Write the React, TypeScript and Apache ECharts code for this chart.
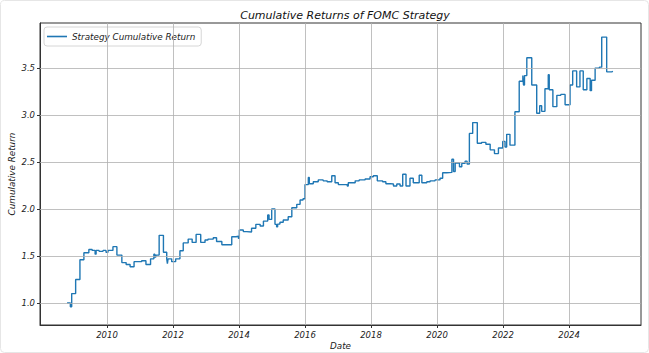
import React, { useEffect, useRef } from "react";
import * as echarts from "echarts";

// Decimal-year positions where the cumulative return changes
const dates = [
  2008.79, 2008.89, 2008.93, 2009.05, 2009.18, 2009.30, 2009.45, 2009.55, 2009.64, 2009.67,
  2009.76, 2009.88, 2009.97, 2010.03, 2010.18, 2010.30, 2010.45, 2010.58, 2010.70, 2010.82,
  2011.05, 2011.18, 2011.32, 2011.42, 2011.45, 2011.48, 2011.58, 2011.71, 2011.81, 2011.83,
  2011.85, 2011.96, 2012.08, 2012.21, 2012.31, 2012.46, 2012.58, 2012.70, 2012.84, 2012.97,
  2013.06, 2013.22, 2013.32, 2013.48, 2013.78, 2013.91, 2013.98, 2014.01, 2014.13, 2014.23,
  2014.38, 2014.51, 2014.64, 2014.74, 2014.87, 2014.91, 2014.99, 2015.09, 2015.14, 2015.17,
  2015.24, 2015.34, 2015.49, 2015.60, 2015.75, 2015.85, 2015.94, 2016.00, 2016.10, 2016.13,
  2016.25, 2016.40, 2016.55, 2016.67, 2016.81, 2016.91, 2017.01, 2017.18, 2017.28, 2017.31,
  2017.52, 2017.64, 2017.82, 2017.97, 2018.07, 2018.19, 2018.35, 2018.45, 2018.58, 2018.68,
  2018.78, 2018.88, 2018.96, 2019.06, 2019.18, 2019.28, 2019.46, 2019.54, 2019.69, 2019.79,
  2019.94, 2020.09, 2020.17, 2020.29, 2020.45, 2020.50, 2020.55, 2020.68, 2020.75, 2020.85,
  2020.91, 2020.98, 2021.08, 2021.22, 2021.35, 2021.48, 2021.61, 2021.74, 2021.86, 2021.99,
  2022.06, 2022.11, 2022.21, 2022.36, 2022.49, 2022.60, 2022.62, 2022.65, 2022.72, 2022.87,
  2023.02, 2023.11, 2023.17, 2023.27, 2023.37, 2023.40, 2023.51, 2023.63, 2023.75, 2023.88,
  2024.03, 2024.11, 2024.23, 2024.33, 2024.43, 2024.54, 2024.64, 2024.68, 2024.79, 2024.92,
  2024.99, 2025.14, 2025.29, 2025.33,
];

const returns = [
  1.00, 0.96, 1.10, 1.25, 1.46, 1.535, 1.57, 1.56, 1.52, 1.56,
  1.55, 1.56, 1.54, 1.56, 1.60, 1.51, 1.43, 1.41, 1.386, 1.44,
  1.45, 1.41, 1.47, 1.52, 1.49, 1.51, 1.72, 1.54, 1.47, 1.42,
  1.47, 1.44, 1.47, 1.556, 1.64, 1.68, 1.645, 1.73, 1.645, 1.67,
  1.68, 1.695, 1.655, 1.62, 1.705, 1.71, 1.69, 1.777, 1.76, 1.755,
  1.795, 1.837, 1.82, 1.872, 1.936, 1.89, 2.0, 1.837, 1.81, 1.84,
  1.86, 1.883, 1.918, 2.014, 2.05, 2.096, 2.11, 2.26, 2.337, 2.27,
  2.29, 2.31, 2.30, 2.29, 2.355, 2.28, 2.26, 2.26, 2.245, 2.28,
  2.30, 2.31, 2.32, 2.344, 2.355, 2.30, 2.29, 2.27, 2.266, 2.245,
  2.266, 2.245, 2.37, 2.245, 2.327, 2.28, 2.36, 2.28, 2.29, 2.30,
  2.31, 2.327, 2.386, 2.39, 2.53, 2.40, 2.49, 2.45, 2.486, 2.51,
  2.48, 2.805, 2.92, 2.70, 2.71, 2.69, 2.63, 2.59, 2.65, 2.72,
  2.66, 2.795, 2.68, 3.035, 3.36, 3.42, 3.32, 3.42, 3.61, 3.32,
  3.02, 3.10, 3.04, 3.28, 3.43, 3.27, 3.09, 3.21, 3.22, 3.11,
  3.32, 3.47, 3.30, 3.47, 3.27, 3.39, 3.26, 3.37, 3.50, 3.51,
  3.83, 3.46, 3.465, 3.465,
];

const xTicks = [2010, 2012, 2014, 2016, 2018, 2020, 2022, 2024];
const yTicks = [1.0, 1.5, 2.0, 2.5, 3.0, 3.5];

const FONT = "DejaVu Sans";

export default function App() {
  const ref = useRef<HTMLDivElement>(null);

  useEffect(() => {
    if (!ref.current) return;
    const chart = echarts.init(ref.current, undefined, { renderer: "svg" });
    const gridStyle = { color: "#b0b0b0", width: 0.8, type: "solid" as const };
    chart.setOption({
      animation: false,
      backgroundColor: "#ffffff",
      title: {
        text: "Cumulative Returns of FOMC Strategy",
        left: 340,
        textAlign: "center",
        top: 5,
        textStyle: { fontFamily: FONT, fontStyle: "italic", fontWeight: "normal", fontSize: 11, color: "#111" },
      },
      legend: {
        data: ["Strategy Cumulative Return"],
        left: 44,
        top: 27,
        orient: "vertical",
        icon: "rect",
        itemWidth: 20,
        itemHeight: 1.6,
        itemGap: 4,
        padding: [5, 6, 5, 3],
        borderColor: "#d6d6d6",
        borderWidth: 1,
        borderRadius: 3,
        backgroundColor: "#ffffff",
        textStyle: { fontFamily: FONT, fontStyle: "italic", fontSize: 8.8, color: "#222" },
      },
      grid: {
        left: 40,
        right: 8,
        top: 23,
        bottom: 28,
        outerBoundsMode: "none",
        containLabel: false,
        show: true,
        borderColor: "#333",
        borderWidth: 1,
        backgroundColor: "transparent",
      },
      xAxis: {
        type: "value",
        min: 2007.97,
        max: 2026.18,
        name: "Date",
        nameLocation: "middle",
        nameGap: 16,
        nameMoveOverlap: false,
        nameTextStyle: { fontFamily: FONT, fontStyle: "italic", fontSize: 8.8, color: "#222" },
        axisLine: { show: true, lineStyle: { color: "#333" } },
        axisTick: { show: true, length: 3, customValues: xTicks, lineStyle: { color: "#333" } },
        axisLabel: {
          customValues: xTicks,
          formatter: (v: number) => String(Math.round(v)),
          fontFamily: FONT,
          fontStyle: "italic",
          fontSize: 8.5,
          color: "#222",
          margin: 5,
        },
        splitLine: { show: false },
      },
      yAxis: {
        type: "value",
        min: 0.766,
        max: 3.98,
        name: "Cumulative Return",
        nameLocation: "middle",
        nameGap: 24,
        nameMoveOverlap: false,
        nameTextStyle: { fontFamily: FONT, fontStyle: "italic", fontSize: 8.8, color: "#222" },
        axisLine: { show: true, lineStyle: { color: "#333" } },
        axisTick: { show: true, length: 3, customValues: yTicks, lineStyle: { color: "#333" } },
        axisLabel: {
          customValues: yTicks,
          formatter: (v: number) => v.toFixed(1),
          fontFamily: FONT,
          fontStyle: "italic",
          fontSize: 8.5,
          color: "#222",
          margin: 5,
        },
        splitLine: { show: false },
      },
      graphic: [
        {
          type: "rect",
          shape: { x: 0.5, y: 0.5, width: 648, height: 352, r: 4 },
          style: { fill: "none", stroke: "#e6e6e6", lineWidth: 1 },
          silent: true,
          z: -1,
        },
      ],
      series: [
        {
          name: "_grid",
          type: "line",
          data: [],
          silent: true,
          z: 1,
          markLine: {
            silent: true,
            symbol: ["none", "none"],
            label: { show: false },
            lineStyle: gridStyle,
            data: [
              ...xTicks.map((v) => ({ xAxis: v })),
              ...yTicks.map((v) => ({ yAxis: v })),
            ],
          },
        },
        {
          name: "Strategy Cumulative Return",
          type: "line",
          step: "end",
          showSymbol: false,
          symbol: "none",
          z: 3,
          color: "#1f77b4",
          lineStyle: { color: "#1f77b4", width: 1.4 },
          data: dates.map((d, i) => [d, returns[i]]),
        },
      ],
    });
    return () => chart.dispose();
  }, []);

  return (
    <div
      ref={ref}
      style={{ position: "fixed", left: 0, top: 0, width: 649, height: 353 }}
    />
  );
}
